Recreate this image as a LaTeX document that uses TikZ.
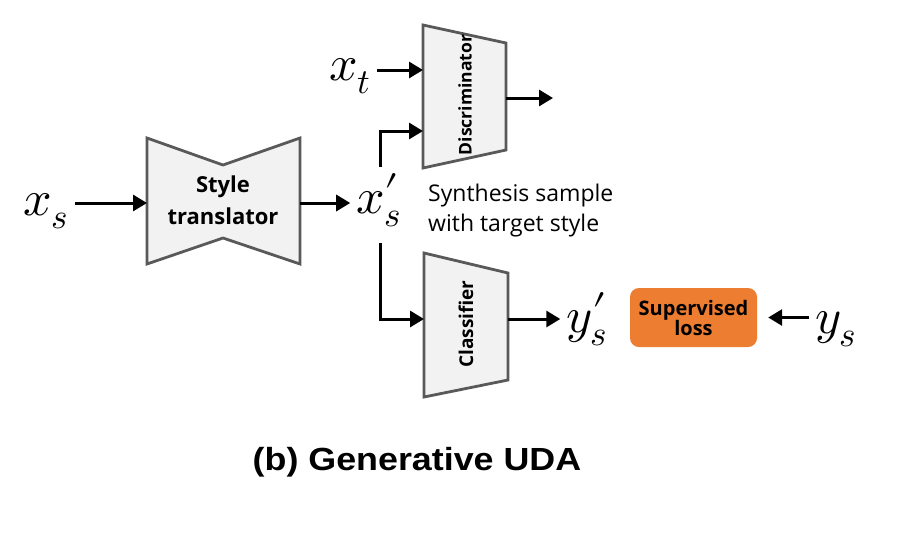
\documentclass[tikz,border=0pt]{standalone}
\usepackage{fontspec}
\usepackage{unicode-math}
\setmainfont{Open Sans}
\setmathfont{Latin Modern Math}
\newfontfamily\titlefont{Liberation Sans}
\usetikzlibrary{arrows.meta}
\definecolor{blockgray}{HTML}{F2F2F2}
\definecolor{edgegray}{HTML}{595959}
\definecolor{lossorange}{HTML}{ED7D31}
\newcommand{\bprime}{\smash{\raisebox{-12pt}{\scalebox{1.3}{$\scriptstyle\prime$}}}}
\begin{document}
\begin{tikzpicture}[x=1pt,y=-1pt,
  conn/.style={line width=3pt,-{Triangle[length=14pt,width=16pt]}},
  block/.style={draw=edgegray,line width=2.8pt,fill=blockgray,line join=miter},
  blocklbl/.style={font=\fontsize{22}{32}\selectfont\bfseries,align=center,inner sep=0},
  rotlbl/.style={font=\fontsize{17.5}{20}\selectfont\bfseries,rotate=90,inner sep=0},
  mathlbl/.style={font=\fontsize{50}{50}\selectfont,inner sep=0,outer sep=6pt},
  notelbl/.style={font=\fontsize{23}{30}\selectfont,align=left,inner sep=0},
  lossbox/.style={fill=lossorange,rounded corners=9pt,minimum width=127pt,minimum height=59pt,
    font=\fontsize{20}{20}\selectfont\bfseries,align=center,inner sep=0}]
\useasboundingbox (0,0) rectangle (901,539);

% Style translator
\draw[block] (147,138) -- (223,165) -- (300,138) -- (300,264) -- (223,238) -- (147,264) -- cycle;
\node[blocklbl] (st) at (223,200) {Style\\translator};
\coordinate (stin) at (147,203);
\coordinate (stout) at (300,203);

% Discriminator
\draw[block] (423,25) -- (506,43) -- (506,150) -- (423,168) -- cycle;
\node[rotlbl] (disc) at (465,95) {Discriminator};
\coordinate (din1) at (423,70);
\coordinate (din2) at (423,131);
\coordinate (dout) at (506,98);
\coordinate (dend) at (553,98);

% Classifier
\draw[block] (424,253) -- (508,273) -- (508,380) -- (424,397) -- cycle;
\node[rotlbl,font=\fontsize{19}{21}\selectfont\bfseries] (cls) at (466,324) {Classifier};
\coordinate (cin) at (424,319);
\coordinate (cout) at (508,319);

% Math labels
\node[mathlbl] (xs) at (46,211) {$x_s$};
\node[mathlbl] (xsp) at (379,209) {$x_s^{\bprime}$};
\node[mathlbl] (xt) at (350,76) {$x_t$};
\node[mathlbl] (ysp) at (587,328) {$y_s^{\bprime}$};
\node[mathlbl] (ys) at (836,329) {$y_s$};

% Note
\node[notelbl,anchor=north west] (note) at (428,184) {Synthesis sample\\with target style};

% Supervised loss
\node[lossbox] (loss) at (693.5,317.5) {Supervised\\loss};

% Title
\node[font=\titlefont\fontsize{32}{36}\selectfont\bfseries,inner sep=0] (title) at (417,462) {\scalebox{1.12}[1]{(b) Generative UDA}};

% Connectors
\coordinate (xsup) at (380,167);
\coordinate (xsdown) at (380,243);
\draw[conn] (xs.east |- stin) -- (stin);
\draw[conn] (stout) -- (stout -| xsp.west);
\draw[conn] (xt.east |- din1) -- (din1);
\draw[conn] (xsup) -- (xsup |- din2) -- (din2);
\draw[conn] (dout) -- (dend);
\draw[conn] (xsdown) -- (xsdown |- cin) -- (cin);
\draw[conn] (cout) -- (cout -| ysp.west);
\draw[conn,shorten >=11pt] (ys.west |- loss.east) -- (loss.east);
\end{tikzpicture}
\end{document}
